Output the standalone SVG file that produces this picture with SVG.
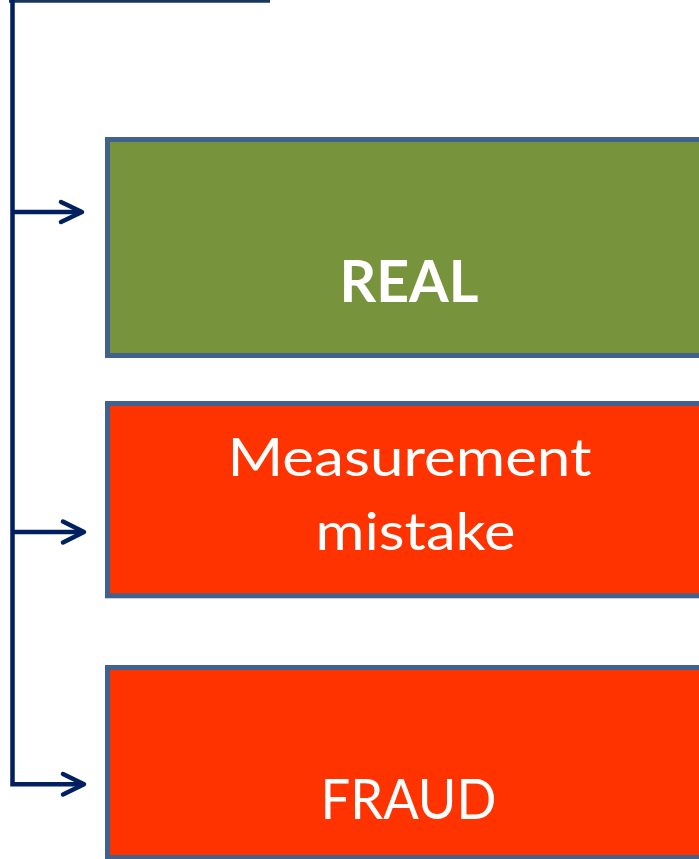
<svg xmlns="http://www.w3.org/2000/svg" width="699" height="859" viewBox="0 0 699 859">
  <style>
    .box { stroke: #41618F; stroke-width: 5; }
    .green { fill: #77933C; }
    .red { fill: #FF3300; }
    .lbl { font-family: Lato, "Open Sans", "Liberation Sans", sans-serif; fill: #FFFFFF; text-anchor: middle; }
    .conn { fill: none; stroke: #002060; stroke-width: 4.5; }
    .head { fill: none; stroke: #002060; stroke-width: 4.5; stroke-linecap: round; stroke-linejoin: round; }
  </style>
  <rect x="0" y="0" width="699" height="859" fill="#FFFFFF"/>
  <g id="connectors">
    <line x1="9" y1="1.3" x2="270" y2="1.3" stroke="#17375E" stroke-width="2.8"/>
    <path class="conn" d="M12.5,0 V784.3 H83"/>
    <line class="conn" x1="12.5" y1="212" x2="81" y2="212"/>
    <line class="conn" x1="12.5" y1="532" x2="83" y2="532"/>
    <polyline class="head" points="61,202 82,212 61,222"/>
    <polyline class="head" points="63,521.5 84,532 63,542.5"/>
    <polyline class="head" points="63,774 84,784.3 63,794.5"/>
  </g>
  <g id="real">
    <rect class="box green" x="107.5" y="139.5" width="610" height="216"/>
    <text class="lbl" x="409" y="302.3" font-size="58" font-weight="bold" textLength="139" lengthAdjust="spacingAndGlyphs">REAL</text>
  </g>
  <g id="measurement-mistake">
    <rect class="box red" x="107.5" y="403.5" width="610" height="192.3"/>
    <text class="lbl" x="409.5" y="476" font-size="53" textLength="364" lengthAdjust="spacingAndGlyphs">Measurement</text>
    <text class="lbl" x="415.5" y="550" font-size="53" textLength="200" lengthAdjust="spacingAndGlyphs">mistake</text>
  </g>
  <g id="fraud">
    <rect class="box red" x="107.5" y="667.5" width="610" height="190"/>
    <text class="lbl" x="408.5" y="819.3" font-size="57" textLength="176" lengthAdjust="spacingAndGlyphs">FRAUD</text>
  </g>
</svg>
